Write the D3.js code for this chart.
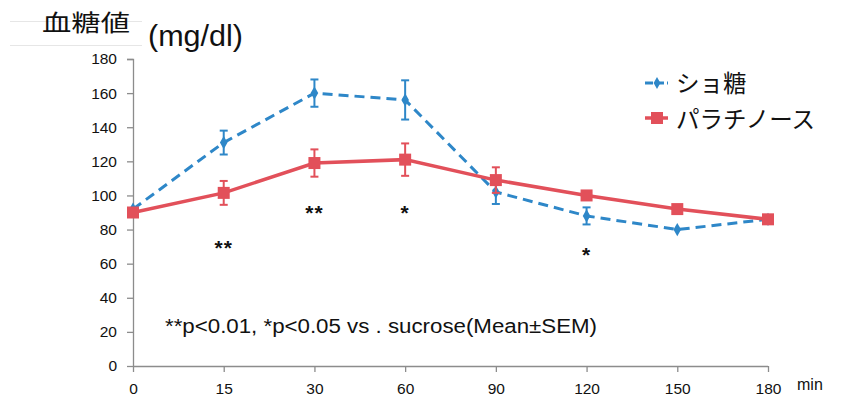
<!DOCTYPE html>
<html><head><meta charset="utf-8">
<script src="https://cdn.jsdelivr.net/npm/d3@7"></script>
<style>body{margin:0;background:#fff}svg{display:block}</style>
</head><body>
<svg id="c" width="843" height="401"></svg>
<script>
const categories = ["0","15","30","60","90","120","150","180"];
const sucrose = [92,131,160,156,102,88,80,86];
const sucroseSem = [0,7,8,11.5,7,5,0,0];
const palatinose = [90,101.5,119,121,109,100,92,86];
const palatinoseSem = [0,7,8,9.5,7.5,0,0,0];
const yTicks = [0,20,40,60,80,100,120,140,160,180];
const stars = [{cat:"15",text:"**",y:69},{cat:"30",text:"**",y:90},{cat:"60",text:"*",y:90},{cat:"120",text:"*",y:65}];
const seriesNames = ["ショ糖","パラチノース"];

const svg = d3.select("#c");
const x = d3.scalePoint().domain(categories).range([133,768]);
const y = d3.scaleLinear().domain([0,180]).range([366,59]);
const blue = "#2e87c8", red = "#e2505a", axisCol = "#8c8c8c";
const tickFont = "Liberation Sans, Arial, sans-serif";
const cjk = "Noto Sans CJK JP, sans-serif";

// faint header lines
svg.append("line").attr("x1",10).attr("x2",142).attr("y1",21.5).attr("y2",21.5).attr("stroke","#e6e6e6");
svg.append("line").attr("x1",10).attr("x2",142).attr("y1",45.5).attr("y2",45.5).attr("stroke","#e6e6e6");

// axes
const ya = svg.append("g").attr("transform","translate(133,0)").call(d3.axisLeft(y).tickValues(yTicks).tickSize(6).tickPadding(10));
ya.select(".domain").attr("stroke",axisCol).attr("stroke-width",1.3).attr("d","M-6,59.5H0.5V366.5");
ya.selectAll(".tick line").attr("stroke",axisCol).attr("stroke-width",1.3);
ya.selectAll(".tick text").attr("font-family",tickFont).attr("font-size",15.5).attr("fill","#111");

const xa = svg.append("g").attr("transform","translate(0,366)").call(d3.axisBottom(x).tickSize(6).tickPadding(11));
xa.select(".domain").attr("stroke",axisCol).attr("stroke-width",1.3).attr("d","M133,0.5H768");
xa.selectAll(".tick line").attr("stroke",axisCol).attr("stroke-width",1.3);
xa.selectAll(".tick text").attr("font-family",tickFont).attr("font-size",15.5).attr("fill","#111");

svg.append("text").attr("x",797).attr("y",390).attr("font-family",tickFont).attr("font-size",16).attr("fill","#111").text("min");

// titles
svg.append("text").attr("x",42).attr("y",31).attr("font-family",cjk).attr("font-size",23).attr("font-weight",400)
  .attr("textLength",88).attr("lengthAdjust","spacingAndGlyphs").attr("fill","#111").text("血糖値");
svg.append("text").attr("x",148).attr("y",46).attr("font-family",tickFont).attr("font-size",29).attr("fill","#111")
  .attr("textLength",95).attr("lengthAdjust","spacingAndGlyphs").text("(mg/dl)");

function errBars(vals, sems, col){
  const g = svg.append("g").attr("stroke",col).attr("stroke-width",2);
  categories.forEach((c,i)=>{
    if(!sems[i]) return;
    const cx = x(c), t = y(vals[i]+sems[i]), b = y(vals[i]-sems[i]);
    g.append("line").attr("x1",cx).attr("x2",cx).attr("y1",t).attr("y2",b);
    g.append("line").attr("x1",cx-4).attr("x2",cx+4).attr("y1",t).attr("y2",t);
    g.append("line").attr("x1",cx-4).attr("x2",cx+4).attr("y1",b).attr("y2",b);
  });
}
const line = d3.line().x((d,i)=>x(categories[i])).y(d=>y(d));

// sucrose
svg.append("path").datum(sucrose).attr("d",line).attr("fill","none").attr("stroke",blue).attr("stroke-width",3).attr("stroke-dasharray","10,6");
errBars(sucrose, sucroseSem, blue);
svg.append("g").selectAll("path").data(sucrose).join("path")
  .attr("d",d3.symbol(d3.symbolDiamond,50))
  .attr("transform",(d,i)=>`translate(${x(categories[i])},${y(d)})`).attr("fill",blue);

// palatinose
svg.append("path").datum(palatinose).attr("d",line).attr("fill","none").attr("stroke",red).attr("stroke-width",3.5);
errBars(palatinose, palatinoseSem, red);
svg.append("g").selectAll("rect").data(palatinose).join("rect")
  .attr("x",(d,i)=>x(categories[i])-6).attr("y",d=>y(d)-6).attr("width",12).attr("height",12).attr("fill",red);

// stars
svg.append("g").selectAll("text").data(stars).join("text")
  .attr("x",d=>x(d.cat)).attr("y",d=>y(d.y)+7).attr("text-anchor","middle").attr("letter-spacing",1)
  .attr("font-family",tickFont).attr("font-size",21).attr("font-weight","bold").attr("fill","#111").text(d=>d.text);

// note
svg.append("text").attr("x",165).attr("y",333).attr("font-family",tickFont).attr("font-size",20).attr("fill","#111")
  .attr("textLength",432).attr("lengthAdjust","spacingAndGlyphs")
  .text("**p<0.01, *p<0.05 vs . sucrose(Mean±SEM)");

// legend
const lg = svg.append("g");
lg.append("line").attr("x1",645).attr("x2",668).attr("y1",83).attr("y2",83).attr("stroke",blue).attr("stroke-width",3).attr("stroke-dasharray","8,3");
lg.append("path").attr("d",d3.symbol(d3.symbolDiamond,40)).attr("transform","translate(657,83)").attr("fill",blue);
lg.append("text").attr("x",676).attr("y",92).attr("font-family",cjk).attr("font-size",23.5).attr("fill","#111").text(seriesNames[0]);
lg.append("line").attr("x1",645).attr("x2",668).attr("y1",118).attr("y2",118).attr("stroke",red).attr("stroke-width",3.5);
lg.append("rect").attr("x",651).attr("y",112).attr("width",12).attr("height",12).attr("fill",red);
lg.append("text").attr("x",676).attr("y",128).attr("font-family",cjk).attr("font-size",23.5).attr("fill","#111").text(seriesNames[1]);
</script>
</body></html>
